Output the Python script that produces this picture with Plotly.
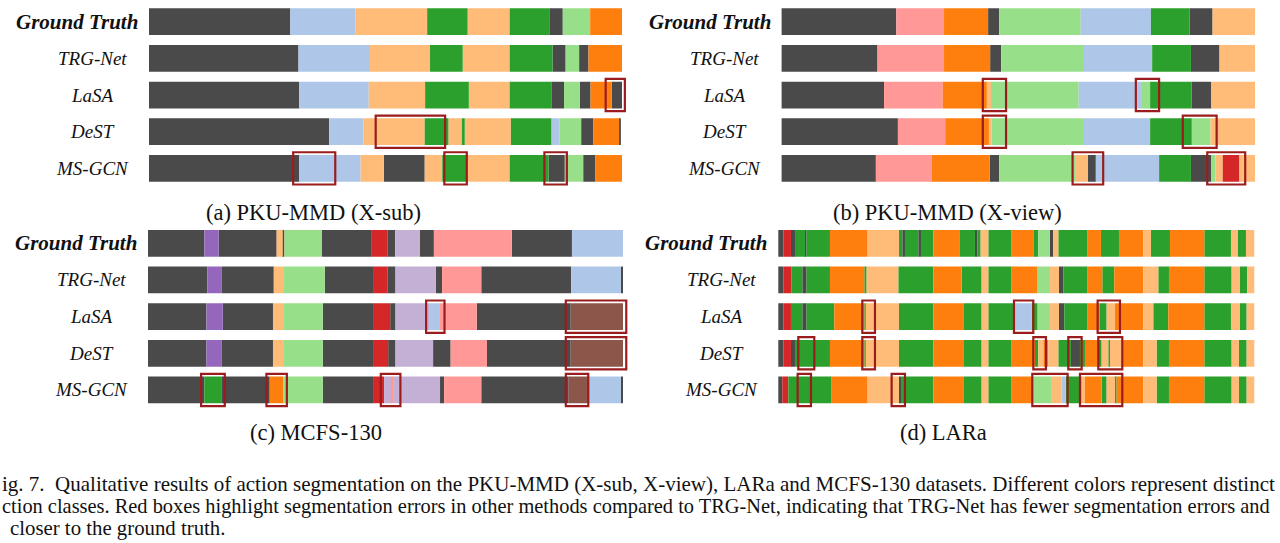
import plotly.graph_objects as go

# class colours (tab10 / tab20 style)
colors = {
    "K": "#4a4a4a", "LB": "#aec7e8", "PE": "#ffbb78", "G": "#2ca02c",
    "LG": "#98df8a", "O": "#ff7f0e", "PK": "#ff9896", "R": "#d62728",
    "PU": "#9467bd", "LV": "#c5b0d5", "BR": "#8c564b",
}

methods = ["Ground Truth", "TRG-Net", "LaSA", "DeST", "MS-GCN"]
captions = ["(a) PKU-MMD (X-sub)", "(b) PKU-MMD (X-view)", "(c) MCFS-130", "(d) LARa"]

# segments as (class, end frame); each row starts at 0
# (a) PKU-MMD X-sub, 1158 frames
gt_a = [("K", 346), ("LB", 505), ("PE", 681), ("G", 780), ("PE", 883), ("G", 980), ("K", 1013), ("LG", 1080), ("O", 1158)]
trg_a = [("K", 366), ("LB", 541), ("PE", 688), ("G", 768), ("PE", 883), ("G", 988), ("K", 1020), ("LG", 1053), ("K", 1076), ("O", 1158)]
lasa_a = [("K", 368), ("LB", 538), ("PE", 676), ("G", 783), ("PE", 883), ("G", 985), ("K", 1016), ("LG", 1055), ("K", 1081), ("O", 1133), ("K", 1158)]
dest_a = [("K", 441), ("LB", 525), ("PE", 675), ("G", 733), ("PE", 766), ("G", 773), ("PE", 886), ("G", 985), ("LB", 1005), ("LG", 1058), ("K", 1088), ("O", 1151), ("K", 1155)]
msgcn_a = [("K", 368), ("LB", 518), ("PE", 575), ("K", 675), ("PE", 718), ("G", 778), ("PE", 883), ("G", 978), ("K", 1018), ("LG", 1063), ("K", 1093), ("O", 1158)]
boxes_a = [(2, 1118, 1165), (3, 555, 725), (4, 353, 456), (4, 723, 778), (4, 968, 1023)]

# (b) PKU-MMD X-view, 1160 frames
gt_b = [("K", 281), ("PK", 398), ("O", 506), ("K", 533), ("LG", 733), ("LB", 905), ("G", 1000), ("K", 1056), ("PE", 1160)]
trg_b = [("K", 235), ("PK", 398), ("O", 511), ("K", 538), ("LG", 741), ("LB", 908), ("G", 1003), ("K", 1073), ("PE", 1160)]
lasa_b = [("K", 251), ("PK", 395), ("O", 503), ("PE", 513), ("LG", 728), ("LB", 883), ("LG", 903), ("G", 1005), ("K", 1053), ("PE", 1160)]
dest_b = [("K", 285), ("PK", 401), ("O", 508), ("PE", 515), ("LG", 741), ("LB", 903), ("G", 1005), ("LG", 1051), ("PE", 1160)]
msgcn_b = [("K", 231), ("PK", 368), ("O", 510), ("K", 533), ("LG", 721), ("PE", 750), ("K", 770), ("LB", 925), ("G", 1003), ("K", 1053), ("LG", 1063), ("PE", 1081), ("R", 1121), ("PE", 1160)]
boxes_b = [(2, 493, 550), (2, 868, 925), (3, 493, 550), (3, 983, 1066), (4, 713, 788), (4, 1043, 1136)]

# (c) MCFS-130, 1163 frames
gt_c = [("K", 138), ("PU", 173), ("K", 315), ("PE", 330), ("K", 334), ("LG", 426), ("K", 548), ("R", 586), ("K", 605), ("LV", 666), ("K", 700), ("PK", 891), ("K", 1038), ("LB", 1163)]
trg_c = [("K", 145), ("PU", 181), ("K", 308), ("PE", 331), ("LG", 433), ("K", 553), ("R", 586), ("K", 606), ("LV", 705), ("K", 720), ("PK", 816), ("K", 1036), ("LB", 1158), ("K", 1163)]
lasa_c = [("K", 143), ("PU", 183), ("K", 306), ("PE", 331), ("LG", 428), ("K", 553), ("R", 593), ("K", 606), ("LV", 688), ("LB", 713), ("PK", 805), ("K", 1035), ("BR", 1163)]
dest_c = [("K", 143), ("PU", 181), ("K", 306), ("PE", 331), ("LG", 428), ("K", 551), ("R", 588), ("K", 606), ("LV", 698), ("K", 741), ("PK", 830), ("K", 1035), ("BR", 1163)]
msgcn_c = [("K", 138), ("G", 181), ("K", 298), ("O", 331), ("LG", 428), ("K", 551), ("R", 578), ("LV", 596), ("PK", 600), ("LV", 715), ("K", 725), ("PK", 816), ("K", 1030), ("BR", 1078), ("LB", 1158), ("K", 1163)]
boxes_c = [(2, 681, 726), (2, 1023, 1171), (3, 1023, 1171), (4, 130, 188), (4, 290, 340), (4, 570, 618), (4, 1023, 1078)]

# (d) LARa, 1428 frames
gt_d = [("K", 15), ("R", 38), ("K", 50), ("G", 80), ("K", 85), ("G", 155), ("O", 268), ("PE", 362), ("G", 372), ("K", 380), ("G", 420), ("K", 428), ("G", 465), ("O", 545), ("G", 590), ("K", 597), ("G", 607), ("PE", 630), ("G", 700), ("O", 765), ("G", 780), ("LG", 815), ("K", 825), ("PE", 840), ("G", 928), ("O", 968), ("G", 1022), ("O", 1095), ("PE", 1118), ("G", 1175), ("O", 1278), ("G", 1358), ("PE", 1378), ("G", 1403), ("PE", 1428)]
trg_d = [("K", 15), ("R", 40), ("G", 72), ("K", 85), ("G", 155), ("O", 258), ("G", 265), ("PE", 360), ("G", 465), ("O", 550), ("G", 610), ("PE", 630), ("G", 700), ("O", 778), ("LG", 815), ("PE", 842), ("K", 855), ("G", 928), ("O", 972), ("G", 1008), ("O", 1095), ("PE", 1140), ("G", 1172), ("O", 1278), ("G", 1360), ("PE", 1385), ("G", 1407), ("PE", 1428)]
lasa_d = [("K", 15), ("R", 38), ("G", 72), ("K", 85), ("G", 168), ("O", 258), ("G", 262), ("PE", 362), ("G", 465), ("O", 555), ("G", 610), ("PE", 630), ("G", 708), ("LB", 760), ("G", 778), ("LG", 815), ("PE", 842), ("K", 858), ("G", 928), ("O", 965), ("G", 985), ("PE", 1010), ("O", 1095), ("PE", 1125), ("G", 1170), ("O", 1278), ("G", 1358), ("PE", 1385), ("G", 1405), ("PE", 1428)]
dest_d = [("K", 15), ("R", 38), ("K", 50), ("G", 155), ("O", 258), ("G", 262), ("PE", 362), ("G", 465), ("O", 555), ("G", 610), ("PE", 630), ("G", 700), ("O", 770), ("G", 780), ("PE", 795), ("O", 810), ("PE", 840), ("G", 878), ("K", 905), ("G", 920), ("O", 960), ("G", 970), ("PE", 990), ("G", 995), ("PE", 1030), ("O", 1095), ("PE", 1135), ("G", 1172), ("O", 1278), ("G", 1360), ("PE", 1382), ("G", 1405), ("PE", 1428)]
msgcn_d = [("K", 12), ("R", 30), ("G", 160), ("O", 268), ("PE", 362), ("K", 368), ("G", 465), ("O", 555), ("G", 610), ("PE", 630), ("G", 700), ("O", 765), ("LG", 818), ("PE", 850), ("LB", 862), ("G", 910), ("PE", 920), ("O", 970), ("G", 985), ("PE", 1010), ("G", 1015), ("O", 1095), ("PE", 1135), ("G", 1172), ("O", 1278), ("G", 1360), ("PE", 1382), ("G", 1405), ("PE", 1428)]
boxes_d = [(2, 252, 290), (2, 707, 765), (2, 958, 1025), (3, 60, 108), (3, 252, 290), (3, 765, 803), (3, 870, 910), (3, 960, 1032), (4, 58, 98), (4, 340, 380), (4, 762, 868), (4, 905, 1032)]

# figure caption as it shows in the crop (left edge cut in the source)
fig_caption = [
    "ig. 7.  Qualitative results of action segmentation on the PKU-MMD (X-sub, X-view), LARa and MCFS-130 datasets. Different colors represent distinct",
    "ction classes. Red boxes highlight segmentation errors in other methods compared to TRG-Net, indicating that TRG-Net has fewer segmentation errors and",
    "closer to the ground truth.",
]

W, H = 1280, 543
SERIF = "Liberation Serif, Times New Roman, serif"
BOX = "#9a1c1c"

# panel geometry in pixels: bar start, bar end, centre of first row, caption centre
panels = [
    dict(rows=[gt_a, trg_a, lasa_a, dest_a, msgcn_a], boxes=boxes_a, T=1158, p0=149, p1=622, top=21.7, cap=(313, 212)),
    dict(rows=[gt_b, trg_b, lasa_b, dest_b, msgcn_b], boxes=boxes_b, T=1160, p0=781.6, p1=1255, top=21.7, cap=(947, 212)),
    dict(rows=[gt_c, trg_c, lasa_c, dest_c, msgcn_c], boxes=boxes_c, T=1163, p0=148, p1=623, top=243.3, cap=(316, 432)),
    dict(rows=[gt_d, trg_d, lasa_d, dest_d, msgcn_d], boxes=boxes_d, T=1428, p0=778.3, p1=1254.3, top=243.3, cap=(943, 432)),
]
step = 36.67
pad = 15

fig = go.Figure()
layout = {}
for i, p in enumerate(panels):
    n = "" if i == 0 else str(i + 1)
    # one bar trace per class
    groups = {}
    for r, row in enumerate(p["rows"]):
        start = 0
        for cls, end in row:
            g = groups.setdefault(cls, ([], [], []))
            g[0].append(r)
            g[1].append(end - start)
            g[2].append(start)
            start = end
    for cls, (ys, lens, bases) in groups.items():
        fig.add_trace(go.Bar(orientation="h", y=ys, x=lens, base=bases, width=0.73,
                             marker=dict(color=colors[cls], line_width=0),
                             xaxis="x" + n, yaxis="y" + n, showlegend=False, hoverinfo="skip"))

    s = (p["p1"] - p["p0"]) / p["T"]
    layout["xaxis" + n] = dict(domain=[(p["p0"] - pad * s) / W, (p["p1"] + pad * s) / W],
                               range=[-pad, p["T"] + pad], visible=False, anchor="y" + n)
    ytop = p["top"] - step / 2
    ybot = p["top"] + 4.5 * step
    layout["yaxis" + n] = dict(domain=[1 - ybot / H, 1 - ytop / H], range=[4.5, -0.5],
                               visible=False, anchor="x" + n)

    for r, x0, x1 in p["boxes"]:
        fig.add_shape(type="rect", xref="x" + n, yref="y" + n, x0=x0, x1=x1,
                      y0=r - 0.44, y1=r + 0.44, line=dict(color=BOX, width=2.2), layer="above")

    for r, m in enumerate(methods):
        if r == 0:
            fig.add_annotation(x=(p["p0"] - 9) / W, y=r, xref="paper", yref="y" + n,
                               text="<b><i>" + m + "</i></b>", xanchor="right", showarrow=False,
                               font=dict(family=SERIF, size=21, color="#111"))
        else:
            fig.add_annotation(x=(p["p0"] - 57) / W, y=r, xref="paper", yref="y" + n,
                               text="<i>" + m + "</i>", xanchor="center", showarrow=False,
                               font=dict(family=SERIF, size=19, color="#111"))
    cx, cy = p["cap"]
    fig.add_annotation(x=cx / W, y=1 - cy / H, xref="paper", yref="paper", text=captions[i],
                       showarrow=False, xanchor="center", yanchor="middle",
                       font=dict(family=SERIF, size=22.5, color="#111"))

cap_x = [0, 0, 8]
cap_y = [484, 506, 528]
cap_size = [21, 20.4, 20.8]
for line, lx, ly, fs in zip(fig_caption, cap_x, cap_y, cap_size):
    fig.add_annotation(x=lx / W, y=1 - ly / H, xref="paper", yref="paper", text=line,
                       showarrow=False, xanchor="left", yanchor="middle",
                       font=dict(family=SERIF, size=fs, color="#111"))

fig.update_layout(width=W, height=H, margin=dict(l=0, r=0, t=0, b=0),
                  plot_bgcolor="white", paper_bgcolor="white", barmode="overlay", **layout)

# drop the default page margin so the figure sits at the window corner
fig.write_html("out.html", config={"displayModeBar": False},
               post_script="document.body.style.margin='0';")
